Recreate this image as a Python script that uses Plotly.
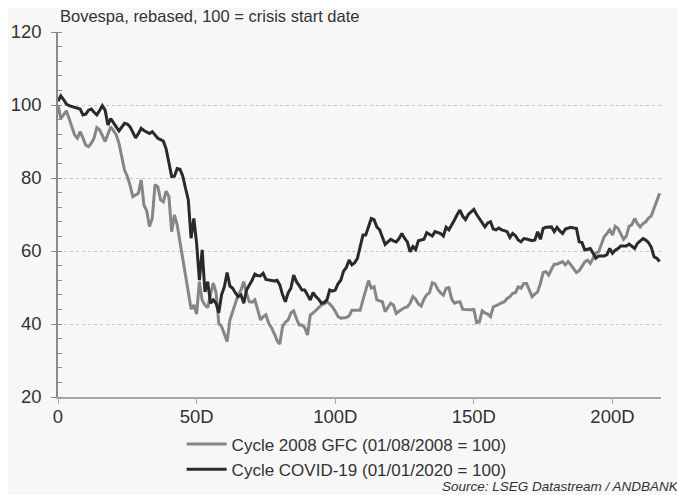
import plotly.graph_objects as go

days = list(range(218))

gfc_2008 = [
    100.0, 96.3, 97.3, 98.4, 96.3, 94.0, 91.8, 90.9, 92.7, 91.0,
    89.0, 88.6, 89.5, 90.9, 93.8, 93.2, 91.5, 90.0, 92.0, 94.0,
    93.0, 91.8, 89.5, 85.5, 82.2, 80.4, 78.0, 74.9, 75.3, 75.8,
    79.5, 72.6, 71.0, 66.7, 68.9, 78.2, 77.6, 74.0, 73.5, 76.4,
    74.9, 65.3, 69.9, 67.1, 62.5, 58.0, 53.0, 48.5, 44.1, 45.2,
    42.7, 51.6, 46.5, 45.2, 44.5, 48.0, 51.2, 48.6, 40.2, 39.3,
    37.0, 35.2, 41.1, 43.5, 46.1, 48.0, 49.3, 51.6, 48.4, 46.1,
    46.0, 46.6, 44.0, 41.1, 42.0, 42.5, 40.2, 39.0, 37.4, 35.5,
    34.5, 39.3, 40.5, 41.1, 43.0, 43.6, 41.5, 39.7, 39.7, 39.0,
    37.0, 42.5, 43.0, 43.8, 44.5, 45.2, 45.5, 46.1, 45.5, 44.7,
    43.5, 42.0, 41.6, 41.6, 41.8, 42.2, 43.8, 43.8, 43.8, 43.8,
    46.6, 49.0, 51.9, 49.8, 50.2, 46.6, 46.3, 46.1, 43.4, 44.5,
    45.7, 45.2, 42.9, 43.5, 44.0, 44.5, 44.7, 45.7, 47.5, 46.8,
    45.5, 44.9, 46.8, 48.0, 48.6, 51.3, 51.0, 49.5, 48.5, 47.9,
    49.8, 50.0, 46.8, 45.7, 46.0, 46.1, 44.0, 43.9, 43.8, 43.9,
    44.0, 40.4, 40.6, 43.6, 43.0, 42.7, 42.0, 44.7, 45.0, 45.5,
    45.8, 46.1, 47.0, 47.5, 48.4, 48.6, 50.2, 49.8, 51.1, 51.1,
    49.5, 47.5, 48.2, 48.8, 51.1, 54.1, 54.3, 53.4, 55.0, 56.4,
    56.4, 56.8, 57.1, 56.2, 57.1, 56.2, 55.0, 54.1, 54.6, 55.9,
    57.0, 57.5, 56.6, 58.0, 59.4, 59.8, 62.0, 63.9, 64.8, 65.8,
    64.4, 66.8, 66.2, 64.5, 63.2, 64.1, 66.8, 67.2, 68.9, 67.5,
    66.6, 67.5, 68.0, 69.0, 69.6, 71.7, 74.0, 75.8,
]

covid_19 = [
    101.0, 102.5, 101.5, 100.3, 99.8, 99.6, 99.2, 99.0, 98.9, 97.3,
    97.5, 98.6, 98.9, 98.0, 97.3, 98.5, 99.8, 98.6, 94.5, 96.3,
    95.0, 94.0, 92.9, 93.8, 95.0, 94.8, 94.0, 92.5, 91.0, 92.2,
    93.6, 93.0, 92.7, 92.2, 92.7, 91.8, 90.9, 90.5, 90.1, 88.0,
    84.5, 80.4, 80.5, 82.6, 82.4, 80.5, 77.2, 74.0, 63.5, 68.9,
    62.1, 52.0, 60.3, 48.8, 51.6, 45.7, 46.6, 45.7, 43.1, 48.0,
    50.2, 54.1, 50.4, 49.8, 48.5, 47.5, 48.0, 45.7, 49.3, 50.5,
    52.0, 53.7, 53.3, 53.2, 53.9, 52.2, 52.0, 52.0, 51.8, 52.0,
    50.7, 48.0, 46.1, 48.5, 49.8, 53.4, 51.6, 50.5, 49.3, 49.3,
    48.0, 46.6, 48.6, 47.5, 46.8, 45.7, 45.9, 46.6, 49.3, 49.0,
    49.3, 51.0, 52.0, 54.5, 55.5, 57.5, 56.2, 56.8, 58.0, 61.2,
    64.4, 64.4, 66.5, 68.9, 68.6, 66.6, 65.8, 64.0, 61.8, 62.5,
    63.2, 62.8, 62.5, 63.4, 64.8, 63.5, 62.5, 59.8, 61.2, 60.4,
    62.8, 63.0, 63.2, 65.0, 64.5, 64.1, 65.3, 65.0, 64.8, 64.1,
    66.5, 65.8, 67.0, 68.5, 70.0, 71.2, 69.5, 68.6, 70.0, 70.7,
    71.4, 70.0, 68.9, 67.5, 66.6, 67.7, 68.0, 66.0, 65.8, 66.3,
    65.8, 65.6, 65.3, 63.7, 64.8, 64.2, 63.0, 62.5, 63.4, 63.3,
    63.0, 62.8, 63.0, 65.3, 63.2, 66.2, 66.5, 66.5, 66.6, 65.3,
    66.5, 65.5, 64.8, 66.0, 66.2, 66.5, 66.3, 66.2, 62.5, 62.3,
    60.3, 60.5, 60.7, 59.4, 58.0, 58.6, 58.6, 58.6, 59.0, 60.7,
    59.4, 60.2, 60.7, 61.4, 61.4, 61.4, 61.9, 61.2, 60.7, 62.1,
    62.8, 63.4, 63.0, 62.3, 61.0, 58.4, 58.0, 57.1,
]

x_tick_vals = [0, 50, 100, 150, 200]
x_tick_text = ["0", "50D", "100D", "150D", "200D"]
y_tick_vals = [20, 40, 60, 80, 100, 120]

series_names = ["Cycle 2008 GFC (01/08/2008 = 100)", "Cycle COVID-19 (01/01/2020 = 100)"]

FONT = "Liberation Sans, Arial, sans-serif"
TXT = "#333333"
BG = "#f7f7f7"

fig = go.Figure()
fig.add_trace(go.Scatter(x=days, y=gfc_2008, mode="lines", name=series_names[0],
                         line=dict(color="#868686", width=3)))
fig.add_trace(go.Scatter(x=days, y=covid_19, mode="lines", name=series_names[1],
                         line=dict(color="#2a2a2a", width=3)))

# page body adds an 8px offset; figure sized to fit the 685x495 window
fig.update_layout(
    width=677, height=487,
    margin=dict(l=50, r=24, t=24, b=98, autoexpand=False),
    paper_bgcolor=BG, plot_bgcolor=BG,
    font=dict(family=FONT, color=TXT, size=18),
    showlegend=True,
    legend=dict(x=0.205, y=-0.081, xanchor="left", yanchor="top",
                orientation="v", bgcolor="rgba(0,0,0,0)",
                font=dict(size=17, family=FONT, color=TXT),
                itemwidth=40, tracegroupgap=0),
    xaxis=dict(range=[0, 217.5], tickvals=x_tick_vals, ticktext=x_tick_text,
               automargin=False,
               showgrid=False, zeroline=False, showline=True, linecolor="#a8a8a8",
               linewidth=1.5, ticks="outside", ticklen=5, tickcolor="#a8a8a8",
               ticklabelstandoff=-3,
               tickfont=dict(size=18.5, family=FONT, color=TXT)),
    yaxis=dict(range=[20, 120], tickvals=y_tick_vals, showgrid=True,
               automargin=False,
               gridcolor="#c4c4c4", griddash="dot", gridwidth=1,
               zeroline=False, showline=True, linecolor="#8a8a8a", linewidth=1.5,
               ticks="outside", ticklen=5, tickcolor="#8a8a8a",
               ticklabelstandoff=6,
               tickfont=dict(size=18.5, family=FONT, color=TXT)),
    annotations=[
        dict(text="Bovespa, rebased, 100 = crisis start date", xref="paper", yref="paper",
             x=0.0, y=1, xanchor="left", yanchor="bottom", yshift=5, showarrow=False,
             font=dict(size=16.5, family=FONT, color=TXT)),
        dict(text="<i>Source: LSEG Datastream / ANDBANK</i>", xref="paper", yref="paper",
             x=1.033, y=-0.244, xanchor="right", yanchor="middle", showarrow=False,
             font=dict(size=13.5, family=FONT, color=TXT)),
    ],
)
fig.update_yaxes(minor=dict(dtick=4, ticks="inside", ticklen=4, tickcolor="#8a8a8a",
                            showgrid=False))

fig.write_html("out.html")
